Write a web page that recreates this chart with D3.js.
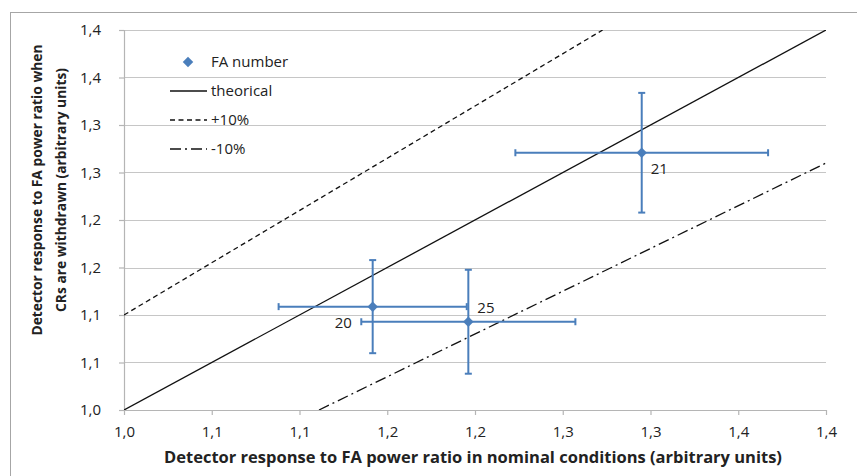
<!DOCTYPE html>
<html>
<head>
<meta charset="utf-8">
<script src="https://cdn.jsdelivr.net/npm/d3@7"></script>
<style>
  body { margin: 0; background: #fff; }
  svg text { font-family: "Open Sans", Lato, sans-serif; fill: #222; }
</style>
</head>
<body>
<div id="chart"></div>
<script>
// data
var faLabels = ["21", "20", "25"];
var faX = [1.295, 1.1417, 1.1962];
var faY = [1.2708, 1.1088, 1.0929];
var faXErr = [0.072, 0.0536, 0.061];
var faYErr = [0.063, 0.049, 0.0547];

var refLabels = ["theorical", "+10%", "-10%"];
var refSlopes = [1.0, 1.1, 0.9];

var tickValues = [1.0, 1.05, 1.1, 1.15, 1.2, 1.25, 1.3, 1.35, 1.4];
var tickLabels = ["1,0", "1,1", "1,1", "1,2", "1,2", "1,3", "1,3", "1,4", "1,4"];

var W = 857, H = 476;
var margin = {top: 30, right: 31, bottom: 66, left: 124},
    width = W - margin.left - margin.right,
    height = H - margin.top - margin.bottom;

var svg = d3.select("#chart")
  .append("svg")
    .attr("width", W)
    .attr("height", H);

// outer chart border (runs off the right and bottom edge)
svg.append("rect")
    .attr("x", 10.5).attr("y", 12.5)
    .attr("width", W + 20).attr("height", H + 20)
    .attr("fill", "none")
    .attr("stroke", "#a6a6a6")
    .attr("stroke-width", 1);

var g = svg.append("g")
    .attr("transform", "translate(" + margin.left + "," + margin.top + ")");

var x = d3.scaleLinear().domain([1.0, 1.4]).range([0, width]);
var y = d3.scaleLinear().domain([1.0, 1.4]).range([height, 0]);

// horizontal gridlines
g.append("g")
    .selectAll("line")
    .data(tickValues.slice(1))
    .enter().append("line")
      .attr("x1", 0).attr("x2", width)
      .attr("y1", function(d) { return Math.round(y(d)) + 0.5; })
      .attr("y2", function(d) { return Math.round(y(d)) + 0.5; })
      .attr("stroke", "#c6c6c6")
      .attr("stroke-width", 1.2);

// axes
var xAxis = g.append("g")
    .attr("transform", "translate(0," + height + ")")
    .call(d3.axisBottom(x).tickValues(tickValues).tickSize(5).tickPadding(11)
      .tickFormat(function(d, i) { return tickLabels[i]; }));
var yAxis = g.append("g")
    .call(d3.axisLeft(y).tickValues(tickValues).tickSize(5).tickPadding(18)
      .tickFormat(function(d, i) { return tickLabels[i]; }));
[xAxis, yAxis].forEach(function(a) {
  a.select(".domain").attr("stroke", "#b5b5b5").attr("stroke-width", 1.2);
  a.selectAll(".tick line").attr("stroke", "#b5b5b5").attr("stroke-width", 1.2);
  a.selectAll(".tick text").attr("font-size", 15).attr("fill", "#222")
    .style("font-family", "'Open Sans', sans-serif");
});
xAxis.selectAll(".domain").attr("d", "M0.5,0.5H" + width + ".5");

// reference lines y = k * x, clipped to the plot
var dashes = [null, "5,3.5", "11,4,2,4"];
g.append("clipPath").attr("id", "plotClip")
  .append("rect").attr("width", width).attr("height", height);
var line = d3.line().x(function(d) { return x(d[0]); }).y(function(d) { return y(d[1]); });
refSlopes.forEach(function(k, i) {
  var x0 = Math.max(1.0, 1.0 / k), x1 = Math.min(1.4, 1.4 / k);
  g.append("path")
    .attr("clip-path", "url(#plotClip)")
    .attr("d", line([[x0, k * x0], [x1, k * x1]]))
    .attr("fill", "none")
    .attr("stroke", "#111")
    .attr("stroke-width", 1.3)
    .attr("stroke-dasharray", dashes[i]);
});

// error bars
var blue = "#4a7ebb";
var pts = faX.map(function(v, i) {
  return {x: v, y: faY[i], ex: faXErr[i], ey: faYErr[i], label: faLabels[i]};
});
var cap = 3.5;
var eb = g.append("g").attr("stroke", blue).attr("stroke-width", 2).attr("fill", "none");
pts.forEach(function(p) {
  var cx = x(p.x), cy = y(p.y);
  var xl = x(p.x - p.ex), xr = x(p.x + p.ex), yt = y(p.y + p.ey), yb = y(p.y - p.ey);
  eb.append("line").attr("x1", xl).attr("x2", xr).attr("y1", cy).attr("y2", cy);
  eb.append("line").attr("x1", xl).attr("x2", xl).attr("y1", cy - cap).attr("y2", cy + cap);
  eb.append("line").attr("x1", xr).attr("x2", xr).attr("y1", cy - cap).attr("y2", cy + cap);
  eb.append("line").attr("x1", cx).attr("x2", cx).attr("y1", yt).attr("y2", yb);
  eb.append("line").attr("x1", cx - cap).attr("x2", cx + cap).attr("y1", yt).attr("y2", yt);
  eb.append("line").attr("x1", cx - cap).attr("x2", cx + cap).attr("y1", yb).attr("y2", yb);
});

// diamond markers
var diamond = d3.symbol().type(d3.symbolDiamond2).size(70);
g.selectAll(".pt")
  .data(pts)
  .enter().append("path")
    .attr("class", "pt")
    .attr("d", diamond)
    .attr("transform", function(d) { return "translate(" + x(d.x) + "," + y(d.y) + ")"; })
    .attr("fill", blue);

// point labels
var labelOffsets = {"21": [9, 21], "20": [-38, 21], "25": [9, -9]};
g.selectAll(".ptlabel")
  .data(pts)
  .enter().append("text")
    .attr("class", "ptlabel")
    .attr("x", function(d) { return x(d.x) + labelOffsets[d.label][0]; })
    .attr("y", function(d) { return y(d.y) + labelOffsets[d.label][1]; })
    .attr("font-size", 15)
    .text(function(d) { return d.label; });

// legend
var lg = svg.append("g").attr("transform", "translate(170,62)");
lg.append("path")
  .attr("d", diamond)
  .attr("transform", "translate(18,0)")
  .attr("fill", blue);
lg.append("text").attr("x", 41).attr("y", 5).attr("font-size", 15).text("FA number");
refLabels.forEach(function(lab, i) {
  var yy = 29 + i * 29;
  lg.append("line")
    .attr("x1", 0).attr("x2", 37).attr("y1", yy).attr("y2", yy)
    .attr("stroke", "#111").attr("stroke-width", 1.3)
    .attr("stroke-dasharray", dashes[i]);
  lg.append("text").attr("x", 41).attr("y", yy + 5).attr("font-size", 15).text(lab);
});

// axis titles
svg.append("text")
    .attr("x", 473).attr("y", 463)
    .attr("text-anchor", "middle")
    .attr("font-size", 16.5)
    .attr("font-weight", "bold")
    .text("Detector response to FA power ratio in nominal conditions (arbitrary units)");

var yt = svg.append("text")
    .attr("transform", "translate(37,190) rotate(-90)")
    .attr("text-anchor", "middle")
    .attr("font-size", 13.8)
    .attr("font-weight", "bold");
yt.append("tspan").attr("x", 0).attr("y", 5).text("Detector response to FA power ratio when");
yt.append("tspan").attr("x", 0).attr("y", 29).text("CRs are withdrawn (arbitrary units)");
</script>
</body>
</html>
